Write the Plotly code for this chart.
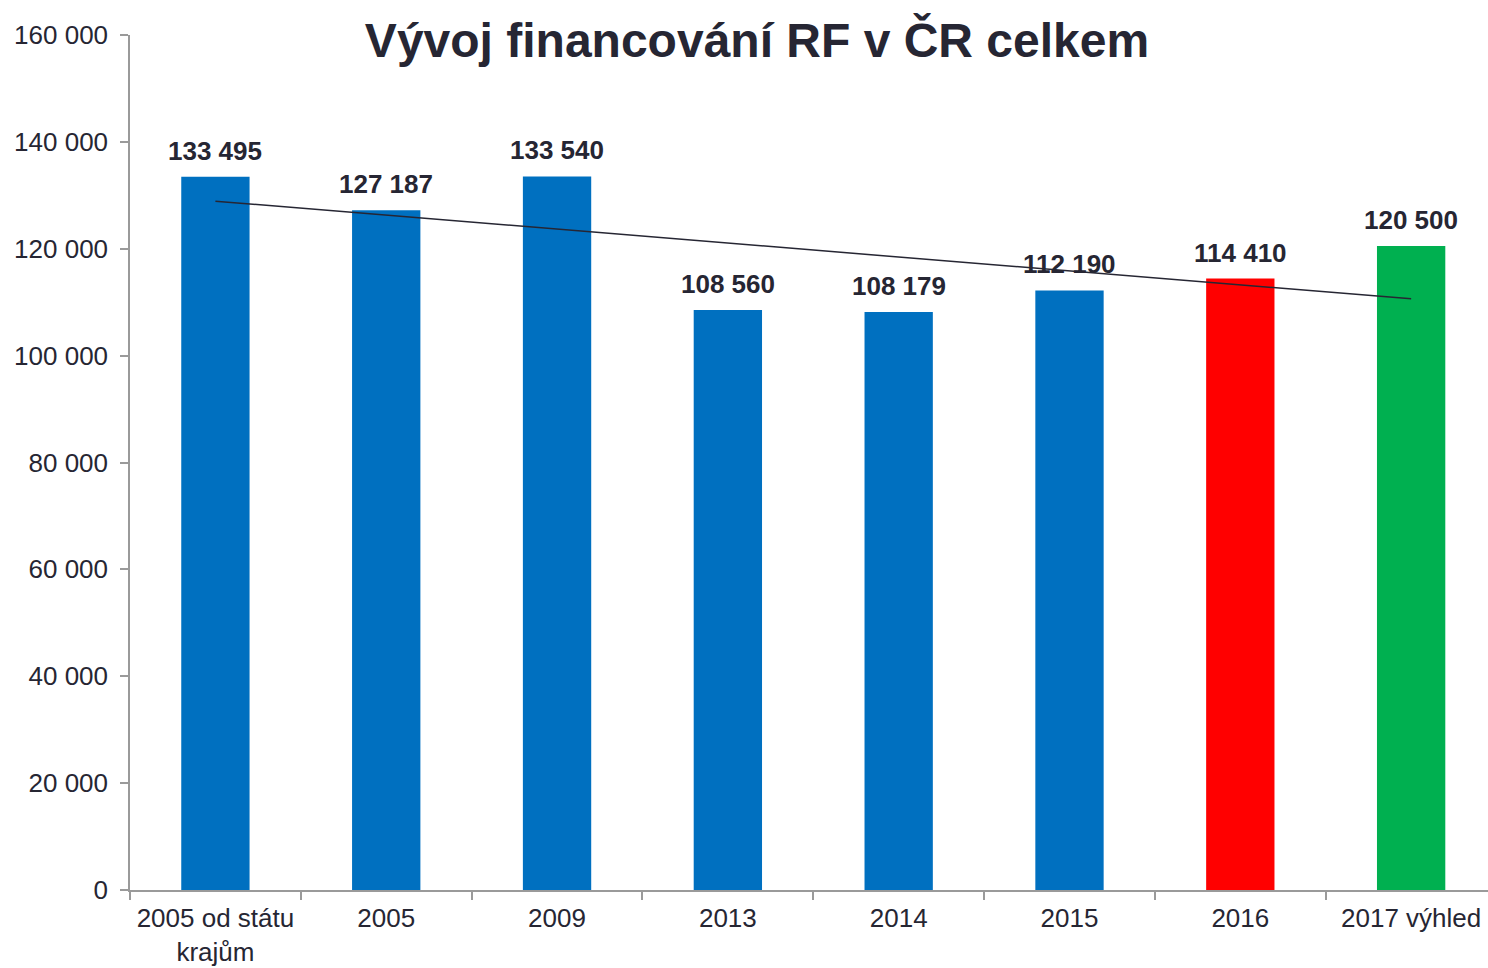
import numpy as np
import plotly.graph_objects as go

categories = ["2005 od státu<br>krajům", "2005", "2009", "2013", "2014", "2015", "2016", "2017 výhled"]
values = [133495, 127187, 133540, 108560, 108179, 112190, 114410, 120500]
bar_colors = ["#0070C0"] * 6 + ["#FF0000", "#00B050"]
y_ticks = [0, 20000, 40000, 60000, 80000, 100000, 120000, 140000, 160000]

text_color = "#262633"
axis_color = "#9A9A9A"
font_family = "Liberation Sans, Arial, sans-serif"

# linear trend through the data (like an Excel linear trendline)
xi = np.arange(len(values))
slope, intercept = np.polyfit(xi, values, 1)
trend = slope * xi + intercept

fig = go.Figure()
fig.add_trace(go.Bar(
    x=categories, y=values,
    marker=dict(color=bar_colors, line=dict(width=0)),
    width=0.4,
    cliponaxis=False,
    showlegend=False,
))
fig.add_trace(go.Scatter(
    x=categories, y=trend, mode="lines",
    line=dict(color=text_color, width=1.5),
    showlegend=False, hoverinfo="skip",
))

for i, v in enumerate(values):
    fig.add_annotation(
        x=i, y=v, xref="x", yref="y",
        text="<b>" + f"{v:,}".replace(",", " ") + "</b>",
        showarrow=False, yanchor="bottom", yshift=9,
        font=dict(family=font_family, size=26, color=text_color),
    )

fig.update_layout(
    width=1488, height=968,
    margin=dict(l=130, r=0, t=35, b=78),
    plot_bgcolor="white", paper_bgcolor="white",
    separators=", ",
    font=dict(family=font_family, size=26, color=text_color),
    title=dict(
        text="<b>Vývoj financování RF v ČR celkem</b>",
        font=dict(family=font_family, size=48, color=text_color),
        x=757 / 1488, xanchor="center",
        y=1 - 40 / 968, yanchor="middle",
    ),
    bargap=0.6,
)
fig.update_xaxes(
    type="category",
    range=[-0.5, 7.45],
    automargin=False,
    showline=True, linecolor=axis_color, linewidth=1.5,
    ticks="outside", tickson="boundaries", ticklen=8, tickcolor=axis_color, tickwidth=1.5,
    tickfont=dict(family=font_family, size=26, color=text_color),
    ticklabelstandoff=4,
    showgrid=False, zeroline=False,
)
fig.update_yaxes(
    range=[0, 160000],
    automargin=False,
    tickvals=y_ticks,
    tickformat=",d",
    showline=True, linecolor=axis_color, linewidth=1.5,
    ticks="outside", ticklen=8, tickcolor=axis_color, tickwidth=1.5,
    tickfont=dict(family=font_family, size=26, color=text_color),
    ticklabelstandoff=7,
    showgrid=False, zeroline=False,
)

fig.write_html(
    "out.html",
    config={"displayModeBar": False},
    post_script="document.body.style.margin='0';document.body.style.overflow='hidden';",
)
